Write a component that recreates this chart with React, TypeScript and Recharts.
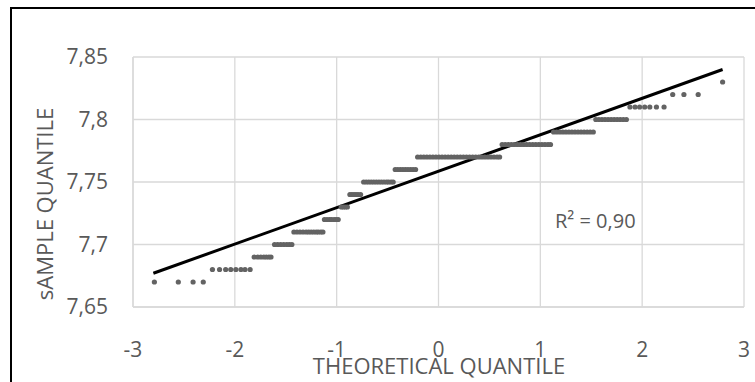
import React from 'react';
import { ScatterChart, Scatter, XAxis, YAxis, CartesianGrid, ReferenceLine } from 'recharts';

// Q-Q plot: sample quantile levels and the theoretical quantiles that land on each level
const xTicks = [-3, -2, -1, 0, 1, 2, 3];
const yTicks = [7.65, 7.7, 7.75, 7.8, 7.85];

const sampleLevels = [7.67, 7.68, 7.69, 7.7, 7.71, 7.72, 7.73, 7.74, 7.75, 7.76, 7.77, 7.78, 7.79, 7.8, 7.81, 7.82, 7.83];

const theoretical = [
  [-2.79, -2.555, -2.41, -2.31],
  [-2.22, -2.15, -2.09, -2.04, -1.99, -1.94, -1.9, -1.85],
  [-1.81, -1.775, -1.745, -1.715, -1.69, -1.665, -1.645],
  [-1.61, -1.58, -1.55, -1.52, -1.49, -1.465, -1.44],
  [-1.42, -1.39, -1.36, -1.33, -1.3, -1.275, -1.25, -1.225, -1.2, -1.18, -1.155, -1.135],
  [-1.12, -1.095, -1.07, -1.05, -1.025, -1.005, -0.985],
  [-0.955, -0.935, -0.915, -0.895],
  [-0.87, -0.85, -0.83, -0.81, -0.79, -0.765],
  [-0.735, -0.71, -0.685, -0.66, -0.635, -0.61, -0.585, -0.56, -0.535, -0.51, -0.49, -0.465, -0.445],
  [-0.425, -0.4, -0.375, -0.35, -0.325, -0.3, -0.275, -0.25, -0.225],
  [-0.205, -0.175, -0.145, -0.115, -0.085, -0.055, -0.025, 0.005, 0.035, 0.065, 0.095, 0.125, 0.155, 0.185,
    0.215, 0.245, 0.275, 0.305, 0.335, 0.365, 0.395, 0.425, 0.455, 0.485, 0.515, 0.545, 0.575, 0.6],
  [0.625, 0.655, 0.685, 0.715, 0.745, 0.775, 0.805, 0.835, 0.865, 0.895, 0.925, 0.955, 0.985, 1.015, 1.045, 1.075, 1.1],
  [1.13, 1.16, 1.19, 1.22, 1.25, 1.28, 1.31, 1.34, 1.37, 1.4, 1.43, 1.46, 1.49, 1.52],
  [1.545, 1.575, 1.605, 1.635, 1.665, 1.695, 1.725, 1.755, 1.785, 1.815, 1.845],
  [1.88, 1.93, 1.975, 2.025, 2.075, 2.14, 2.215],
  [2.3, 2.41, 2.55],
  [2.79],
];

// linear trendline end points
const trendStart = { x: -2.8, y: 7.677 };
const trendEnd = { x: 2.79, y: 7.84 };
const rSquaredLabel = 'R² = 0,90';

const points = sampleLevels.flatMap((y, i) => theoretical[i].map((x) => ({ x, y })));

const fmt = (v: number) => String(v).replace('.', ',');
const textColor = '#595959';

export default function App() {
  return (
    <div style={{ position: 'relative', width: 755, height: 382, overflow: 'hidden', fontFamily: '"Open Sans", sans-serif' }}>
      <style>{'body{margin:0;overflow:hidden}'}</style>
      <div style={{ position: 'absolute', left: 10, top: 7, width: 800, height: 420, border: '2px solid #000' }} />
      <div style={{ position: 'absolute', left: 0, top: 0 }}>
        <ScatterChart width={755} height={382} margin={{ top: 57, right: 11, bottom: 0, left: 0 }}>
          <CartesianGrid stroke="#d9d9d9" strokeWidth={1.3} />
          <XAxis
            type="number"
            dataKey="x"
            domain={[-3, 3]}
            ticks={xTicks}
            height={75}
            axisLine={{ stroke: '#d9d9d9', strokeWidth: 1.3 }}
            tickLine={false}
            tickSize={0}
            tickMargin={35}
            tick={{ fill: textColor, fontSize: 21 }}
          />
          <YAxis
            type="number"
            dataKey="y"
            domain={[7.65, 7.85]}
            ticks={yTicks}
            width={133}
            axisLine={{ stroke: '#d9d9d9', strokeWidth: 1.3 }}
            tickLine={false}
            tickSize={0}
            tickMargin={25}
            tickFormatter={fmt}
            tick={{ fill: textColor, fontSize: 21 }}
          />
          <Scatter
            data={points}
            isAnimationActive={false}
            shape={(p: any) => <circle cx={p.cx} cy={p.cy} r={2.6} fill="#636363" />}
          />
          <ReferenceLine segment={[trendStart, trendEnd]} stroke="#000" strokeWidth={3} />
        </ScatterChart>
      </div>
      <svg width={755} height={382} style={{ position: 'absolute', left: 0, top: 0, pointerEvents: 'none' }}>
        <text x={439} y={374} textAnchor="middle" fill={textColor} fontSize={22}>THEORETICAL QUANTILE</text>
        <text x={53} y={204} textAnchor="middle" fill={textColor} fontSize={22} transform="rotate(-90 53 204)">
          sAMPLE QUANTILE
        </text>
        <text x={555} y={228} fill={textColor} fontSize={20}>{rSquaredLabel}</text>
      </svg>
    </div>
  );
}
